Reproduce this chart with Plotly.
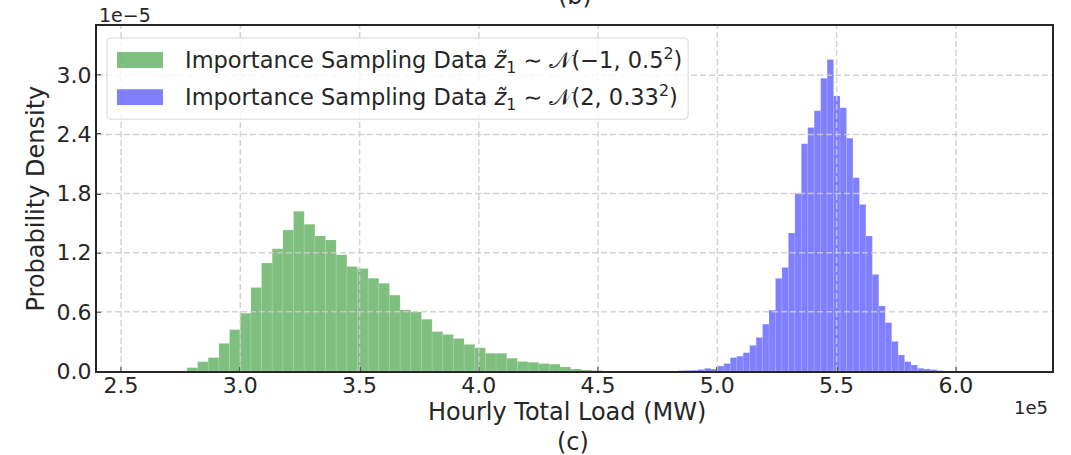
import plotly.graph_objects as go

# ---------------- data (x in units of 1e5 MW, density in units of 1e-5) ----------------
green_start = 2.776
green_width = 0.0447
green_density = [0.034, 0.095, 0.136, 0.28, 0.42, 0.586, 0.847, 1.095, 1.24, 1.43,
                 1.62, 1.49, 1.37, 1.33, 1.18, 1.06, 1.04, 0.94, 0.89, 0.77,
                 0.62, 0.60, 0.525, 0.40, 0.37, 0.33, 0.27, 0.235, 0.18, 0.18,
                 0.13, 0.096, 0.089, 0.075, 0.069, 0.041, 0.02, 0.01, 0.005]

blue_start = 4.8376
blue_width = 0.02707
blue_density = [0.004, 0.006, 0.008, 0.015, 0.027, 0.02,
                0.05, 0.075, 0.136, 0.15, 0.186, 0.26, 0.34, 0.475, 0.617, 0.94,
                1.05, 1.40, 1.80, 2.305, 2.47, 2.64, 2.97, 3.16, 2.79, 2.67,
                2.36, 1.96, 1.69, 1.37, 0.98, 0.66, 0.49, 0.30, 0.163, 0.095,
                0.061, 0.027, 0.02, 0.014, 0.005]

x_ticks = [2.5, 3.0, 3.5, 4.0, 4.5, 5.0, 5.5, 6.0]
y_ticks = [0.0, 0.6, 1.2, 1.8, 2.4, 3.0]

green_label = "Importance Sampling Data <i>z\u0303</i><sub>1</sub> \u223c \U0001D4A9(\u22121, 0.5<sup>2</sup>)"
blue_label = "Importance Sampling Data <i>z\u0303</i><sub>1</sub> \u223c \U0001D4A9(2, 0.33<sup>2</sup>)"

GREEN = "rgba(0,128,0,0.5)"
BLUE = "rgba(0,0,255,0.5)"
FONT = "DejaVu Sans"
TXT = "#262626"

green_x = [green_start + green_width * (i + 0.5) for i in range(len(green_density))]
blue_x = [blue_start + blue_width * (i + 0.5) for i in range(len(blue_density))]

fig = go.Figure()
fig.add_trace(go.Bar(x=green_x, y=green_density, width=green_width,
                     marker=dict(color=GREEN, line=dict(color="rgba(255,255,255,0.25)", width=0.5)),
                     showlegend=False))
fig.add_trace(go.Bar(x=blue_x, y=blue_density, width=blue_width,
                     marker=dict(color=BLUE, line=dict(color="rgba(255,255,255,0.25)", width=0.5)),
                     showlegend=False))

shapes = []
grid_style = dict(color="rgba(205,205,205,0.85)", width=1.5, dash="6px,3px")
for xv in x_ticks:
    shapes.append(dict(type="line", xref="x", yref="paper", x0=xv, x1=xv, y0=0, y1=1,
                       line=grid_style, layer="above"))
for yv in y_ticks[1:]:
    shapes.append(dict(type="line", xref="paper", yref="y", x0=0, x1=1, y0=yv, y1=yv,
                       line=grid_style, layer="above"))

# legend frame (paper coordinates)
lx0, lx1, ly0, ly1 = 0.0105, 0.619, 0.730, 0.965
rx, ry = 0.0045, 0.013
path = (f"M{lx0+rx},{ly0} L{lx1-rx},{ly0} Q{lx1},{ly0} {lx1},{ly0+ry} "
        f"L{lx1},{ly1-ry} Q{lx1},{ly1} {lx1-rx},{ly1} L{lx0+rx},{ly1} "
        f"Q{lx0},{ly1} {lx0},{ly1-ry} L{lx0},{ly0+ry} Q{lx0},{ly0} {lx0+rx},{ly0} Z")
shapes.append(dict(type="path", xref="paper", yref="paper", path=path,
                   fillcolor="rgba(255,255,255,0.8)", line=dict(color="rgba(204,204,204,0.8)", width=1),
                   layer="above"))
shapes.append(dict(type="rect", xref="paper", yref="paper", x0=0.0209, x1=0.0691, y0=0.878, y1=0.925,
                   fillcolor=GREEN, line=dict(width=0), layer="above"))
shapes.append(dict(type="rect", xref="paper", yref="paper", x0=0.0209, x1=0.0691, y0=0.771, y1=0.817,
                   fillcolor=BLUE, line=dict(width=0), layer="above"))

annotations = [
    dict(text=green_label, x=0.0901, y=0.9014, xref="paper", yref="paper", xanchor="left",
         yanchor="middle", showarrow=False, font=dict(size=22.5, color=TXT, family=FONT)),
    dict(text=blue_label, x=0.0901, y=0.794, xref="paper", yref="paper", xanchor="left",
         yanchor="middle", showarrow=False, font=dict(size=22.5, color=TXT, family=FONT)),
    dict(text="Probability Density", x=-0.0639, y=0.5, xref="paper", yref="paper",
         textangle=-90, xanchor="center", yanchor="middle", showarrow=False,
         font=dict(size=24, color=TXT, family=FONT)),
    dict(text="Hourly Total Load (MW)", x=0.492, y=-0.12, xref="paper", yref="paper",
         xanchor="center", yanchor="middle", showarrow=False,
         font=dict(size=24, color=TXT, family=FONT)),
    dict(text="(c)", x=0.498, y=-0.205, xref="paper", yref="paper",
         xanchor="center", yanchor="middle", showarrow=False,
         font=dict(size=24, color=TXT, family=FONT)),
    dict(text="(b)", x=0.5, y=1.087, xref="paper", yref="paper",
         xanchor="center", yanchor="middle", showarrow=False,
         font=dict(size=24, color=TXT, family=FONT)),
    dict(text="1e5", x=0.998, y=-0.107, xref="paper", yref="paper",
         xanchor="right", yanchor="middle", showarrow=False,
         font=dict(size=18, color=TXT, family=FONT)),
    dict(text="1e\u22125", x=0.0, y=1.032, xref="paper", yref="paper",
         xanchor="left", yanchor="middle", showarrow=False,
         font=dict(size=19, color=TXT, family=FONT)),
]

axis_common = dict(showline=True, linecolor="#262626", linewidth=2, mirror=True,
                   ticks="inside", ticklen=4, tickwidth=1.5, tickcolor="#262626",
                   showgrid=False, zeroline=False, layer="above traces",
                   tickfont=dict(size=22, color=TXT, family=FONT))

fig.update_layout(
    width=1071, height=455,
    margin=dict(l=97, r=19, t=26, b=84),
    paper_bgcolor="white", plot_bgcolor="white",
    barmode="overlay",
    showlegend=False,
    font=dict(family=FONT, color=TXT),
    xaxis=dict(range=[2.399, 6.403], tickvals=x_ticks, ticklabelstandoff=-6,
               ticktext=[f"{v:.1f}" for v in x_ticks], **axis_common),
    yaxis=dict(range=[0, 3.5], tickvals=y_ticks, ticklabelstandoff=-1,
               ticktext=[f"{v:.1f}" for v in y_ticks], **axis_common),
    shapes=shapes,
    annotations=annotations,
)

fig.write_html("out.html")
